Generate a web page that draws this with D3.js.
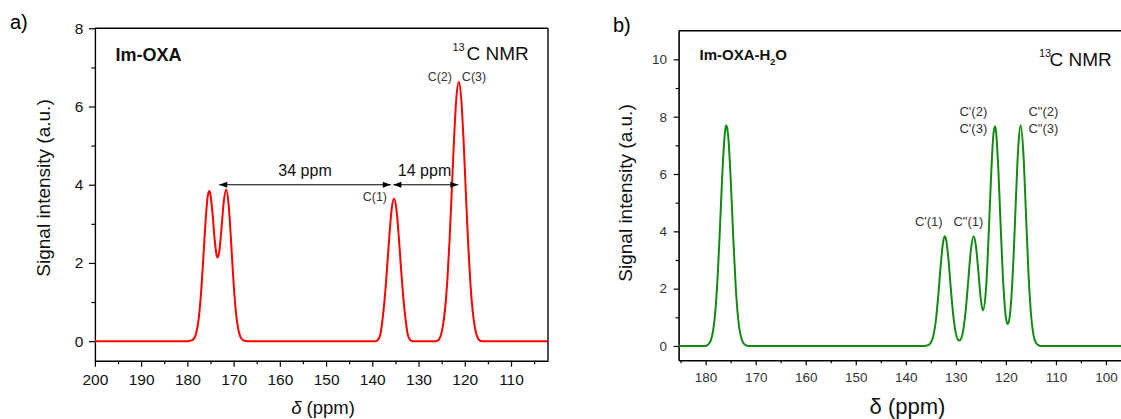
<!DOCTYPE html>
<html><head><meta charset="utf-8">
<script src="https://cdn.jsdelivr.net/npm/d3@7"></script>
<style>
body{margin:0;background:#fff}
svg{display:block}
text{font-family:"Liberation Sans",Arial,Helvetica,sans-serif}
</style>
</head><body>
<svg id="c" width="1121" height="419"></svg>
<script>
// ---------- Data: panel a (Im-OXA, 13C NMR) ----------
const aPpm = [200, 180.1, 179.1, 178.6, 178.1, 177.6, 177.1, 176.6, 176.1, 175.6, 175.3, 175.1, 174.6, 174.1, 173.6, 173.45, 173.1, 172.6, 172.1, 171.6, 171.1, 170.6, 170.1, 169.6, 169.1, 168.6, 168.1, 167.6, 167.1,
  139.3, 138.8, 138.3, 137.8, 137.3, 136.8, 136.3, 135.8, 135.3, 134.8, 134.3, 133.8, 133.3, 132.8, 132.3, 131.8, 131.3,
  126.3, 125.8, 125.3, 124.8, 124.3, 123.8, 123.3, 122.8, 122.3, 121.8, 121.3, 120.8, 120.3, 119.8, 119.3, 118.8, 118.3, 117.8, 117.3, 116.8, 116.3, 102];
const aInt = [0, 0, 0.02, 0.06, 0.20, 0.53, 1.14, 2.03, 3.01, 3.70, 3.84, 3.80, 3.32, 2.60, 2.16, 2.14, 2.29, 2.91, 3.60, 3.88, 3.52, 2.66, 1.66, 0.86, 0.37, 0.13, 0.04, 0.01, 0,
  0, 0.03, 0.15, 0.55, 1.12, 1.88, 2.71, 3.39, 3.65, 3.39, 2.71, 1.88, 1.12, 0.55, 0.15, 0.03, 0,
  0, 0.02, 0.11, 0.34, 0.78, 1.50, 2.56, 3.88, 5.23, 6.25, 6.63, 6.25, 5.23, 3.88, 2.56, 1.50, 0.78, 0.34, 0.11, 0.02, 0, 0];
const aXTicks = [200, 190, 180, 170, 160, 150, 140, 130, 120, 110];
const aXMinor = [195, 185, 175, 165, 155, 145, 135, 125, 115, 105];
const aYTicks = [0, 2, 4, 6, 8];
const aYMinor = [1, 3, 5, 7];
const aPeakLabels = [
  {t: "C(2)", ppm: 125.4, v: 6.66},
  {t: "C(3)", ppm: 118.0, v: 6.66},
  {t: "C(1)", ppm: 139.45, v: 3.58}
];
const aArrows = [
  {from: 173.1, to: 136.0, v: 4.0, label: "34 ppm", lp: 154.55, lv: 4.23},
  {from: 135.45, to: 121.4, v: 4.0, label: "14 ppm", lp: 128.7, lv: 4.23}
];

// ---------- Data: panel b (Im-OXA-H2O, 13C NMR) ----------
const bPpm = [185.5, 180.0, 179.5, 179.0, 178.5, 178.0, 177.5, 177.0, 176.5, 176.0, 175.85, 175.5, 175.0, 174.5, 174.0, 173.5, 173.0, 172.5, 172.0, 171.5,
  136.5, 136.0, 135.5, 135.0, 134.5, 134.0, 133.5, 133.0, 132.5, 132.2, 132.0, 131.5, 131.0, 130.5, 130.0, 129.5, 129.38, 129.0, 128.5, 128.0, 127.5, 127.0, 126.45, 126.0, 125.5, 125.0, 124.6, 124.0, 123.5, 123.0, 122.5, 122.2, 122.0, 121.5, 121.0, 120.5, 120.0, 119.7, 119.5, 119.0, 118.5, 118.0, 117.5, 117.05, 116.5, 116.0, 115.5, 115.0, 114.5, 114.0, 113.5, 113.0, 94];
const bInt = [0, 0, 0.05, 0.18, 0.54, 1.34, 2.75, 4.67, 6.56, 7.63, 7.70, 7.35, 5.86, 3.87, 2.11, 0.95, 0.36, 0.11, 0.03, 0,
  0, 0.01, 0.03, 0.11, 0.35, 0.88, 1.78, 2.86, 3.68, 3.83, 3.76, 3.07, 1.99, 1.04, 0.44, 0.20, 0.19, 0.24, 0.58, 1.29, 2.32, 3.34, 3.83, 3.50, 2.60, 1.62, 1.24, 1.92, 3.64, 5.75, 7.37, 7.67, 7.53, 6.14, 4.00, 2.11, 1.00, 0.77, 0.80, 1.44, 2.98, 5.12, 7.02, 7.70, 6.71, 4.67, 2.59, 1.15, 0.40, 0.11, 0.03, 0, 0];
const bXTicks = [180, 170, 160, 150, 140, 130, 120, 110, 100];
const bXMinor = [185, 175, 165, 155, 145, 135, 125, 115, 105];
const bYTicks = [0, 2, 4, 6, 8, 10];
const bYMinor = [1, 3, 5, 7, 9];
const bPeakLabels = [
  {ppm: 135.4, v: 4.19, lines: ["C'(1)"]},
  {ppm: 127.5, v: 4.19, lines: ["C\"(1)"]},
  {ppm: 126.5, v: 8.02, lines: ["C'(2)", "C'(3)"]},
  {ppm: 112.5, v: 8.02, lines: ["C\"(2)", "C\"(3)"]}
];

const svg = d3.select("#c");

function drawAxes(g, x, y, o) {
  const ax = g.append("g").attr("transform", `translate(0,${y.range()[0]})`)
    .call(d3.axisBottom(x).tickValues(o.xt).tickSize(o.tmaj).tickSizeOuter(0).tickPadding(o.xpad).tickFormat(d3.format("d")));
  g.append("g").attr("transform", `translate(0,${y.range()[0]})`)
    .call(d3.axisBottom(x).tickValues(o.xm).tickSize(o.tmin).tickSizeOuter(0).tickFormat(""))
    .select(".domain").remove();
  const ay = g.append("g").attr("transform", `translate(${x.range()[0]},0)`)
    .call(d3.axisLeft(y).tickValues(o.yt).tickSize(o.tmaj).tickSizeOuter(0).tickPadding(o.ypad).tickFormat(d3.format("d")));
  g.append("g").attr("transform", `translate(${x.range()[0]},0)`)
    .call(d3.axisLeft(y).tickValues(o.ym).tickSize(o.tmin).tickSizeOuter(0).tickFormat(""))
    .select(".domain").remove();
  g.selectAll(".domain").attr("stroke", "#000").attr("stroke-width", o.sw);
  g.selectAll(".tick line").attr("stroke", "#000").attr("stroke-width", 1.2);
  [ax, ay].forEach(a => a.selectAll("text").attr("font-size", o.fs).attr("fill", o.tc).attr("font-family", null));
}

// ---------- Panel a ----------
const xA = d3.scaleLinear().domain([200, 102]).range([94.9, 548]);
const yA = d3.scaleLinear().domain([-0.5, 8]).range([360.7, 28.3]);
const gA = svg.append("g");
drawAxes(gA, xA, yA, {xt: aXTicks, xm: aXMinor, yt: aYTicks, ym: aYMinor, tmaj: 6, tmin: 3.5, xpad: 7.5, ypad: 5.5, sw: 1.4, fs: "15.5px", tc: "#111"});
gA.append("line").attr("x1", xA.range()[0]).attr("x2", xA.range()[1]).attr("y1", yA.range()[1]).attr("y2", yA.range()[1]).attr("stroke", "#000").attr("stroke-width", 1.4);
gA.append("line").attr("x1", xA.range()[1]).attr("x2", xA.range()[1]).attr("y1", yA.range()[1]).attr("y2", yA.range()[0]).attr("stroke", "#000").attr("stroke-width", 1.4);

const lineA = d3.line().x(i => xA(aPpm[i])).y(i => yA(aInt[i])).curve(d3.curveMonotoneX);
gA.append("path").attr("d", lineA(d3.range(aPpm.length))).attr("fill", "none").attr("stroke", "#ff0000").attr("stroke-width", 2);

aArrows.forEach(a => {
  const x1 = xA(a.from), x2 = xA(a.to), yy = yA(a.v);
  gA.append("line").attr("x1", x1).attr("x2", x2).attr("y1", yy).attr("y2", yy).attr("stroke", "#000").attr("stroke-width", 1.1);
  gA.append("path").attr("d", `M${x1},${yy}L${x1 + 8},${yy - 3}L${x1 + 8},${yy + 3}Z`).attr("fill", "#000");
  gA.append("path").attr("d", `M${x2},${yy}L${x2 - 8},${yy - 3}L${x2 - 8},${yy + 3}Z`).attr("fill", "#000");
  gA.append("text").attr("x", xA(a.lp)).attr("y", yA(a.lv)).attr("text-anchor", "middle")
    .attr("font-size", "16px").attr("fill", "#111").text(a.label);
});
aPeakLabels.forEach(p => {
  gA.append("text").attr("x", xA(p.ppm)).attr("y", yA(p.v)).attr("text-anchor", "middle")
    .attr("font-size", "12.5px").attr("fill", "#333").text(p.t);
});
gA.append("text").attr("x", 115.5).attr("y", 61).attr("font-size", "18px").attr("font-weight", "bold").attr("fill", "#111").text("Im-OXA");
gA.append("text").attr("x", 452.5).attr("y", 50.5).attr("font-size", "11px").attr("fill", "#111").text("13");
gA.append("text").attr("x", 466.5).attr("y", 60).attr("font-size", "19px").attr("fill", "#111").text("C NMR");
gA.append("text").attr("x", 10).attr("y", 29).attr("font-size", "20px").attr("fill", "#000").text("a)");
gA.append("text").attr("transform", `translate(50,188) rotate(-90)`)
  .attr("text-anchor", "middle").attr("font-size", "19px").attr("fill", "#111").text("Signal intensity (a.u.)");
const xlA = gA.append("text").attr("x", 323).attr("y", 414).attr("text-anchor", "middle").attr("font-size", "18.5px").attr("fill", "#111");
xlA.append("tspan").attr("font-style", "italic").text("δ");
xlA.append("tspan").text(" (ppm)");

// ---------- Panel b ----------
const xB = d3.scaleLinear().domain([185.4, 94]).range([678.6, 1136]);
const yB = d3.scaleLinear().domain([-0.5, 11]).range([360.3, 30.7]);
const gB = svg.append("g");
svg.append("defs").append("clipPath").attr("id", "clipB").append("rect")
  .attr("x", xB.range()[0]).attr("y", yB.range()[1]).attr("width", xB.range()[1] - xB.range()[0]).attr("height", yB.range()[0] - yB.range()[1]);
drawAxes(gB, xB, yB, {xt: bXTicks, xm: bXMinor, yt: bYTicks, ym: bYMinor, tmaj: 5, tmin: 3, xpad: 7, ypad: 6.5, sw: 1.6, fs: "13.5px", tc: "#333"});
gB.append("line").attr("x1", xB.range()[0]).attr("x2", xB.range()[1]).attr("y1", yB.range()[1]).attr("y2", yB.range()[1]).attr("stroke", "#000").attr("stroke-width", 1.6);

const lineB = d3.line().x(i => xB(bPpm[i])).y(i => yB(bInt[i])).curve(d3.curveMonotoneX);
gB.append("path").attr("clip-path", "url(#clipB)").attr("d", lineB(d3.range(bPpm.length))).attr("fill", "none").attr("stroke", "#128a12").attr("stroke-width", 2);

bPeakLabels.forEach(p => {
  p.lines.forEach((ln, k) => {
    gB.append("text").attr("x", xB(p.ppm)).attr("y", yB(p.v) + k * 16.6).attr("text-anchor", "middle")
      .attr("font-size", "13px").attr("fill", "#333").text(ln);
  });
});
const tB = gB.append("text").attr("x", 699.5).attr("y", 60).attr("font-size", "15px").attr("font-weight", "bold").attr("fill", "#111");
tB.append("tspan").text("Im-OXA-H");
tB.append("tspan").attr("font-size", "9px").attr("dy", 5).text("2");
tB.append("tspan").attr("dy", -5).text("O");
gB.append("text").attr("x", 1039).attr("y", 56.5).attr("font-size", "11px").attr("fill", "#111").text("13");
gB.append("text").attr("x", 1049.5).attr("y", 65.5).attr("font-size", "19px").attr("fill", "#111").text("C NMR");
gB.append("text").attr("x", 613).attr("y", 32).attr("font-size", "20px").attr("fill", "#000").text("b)");
gB.append("text").attr("transform", `translate(632,193) rotate(-90)`)
  .attr("text-anchor", "middle").attr("font-size", "19px").attr("fill", "#111").text("Signal intensity (a.u.)");
gB.append("text").attr("x", 907.5).attr("y", 414).attr("text-anchor", "middle").attr("font-size", "22px").attr("fill", "#111").text("δ (ppm)");
</script>
</body></html>
